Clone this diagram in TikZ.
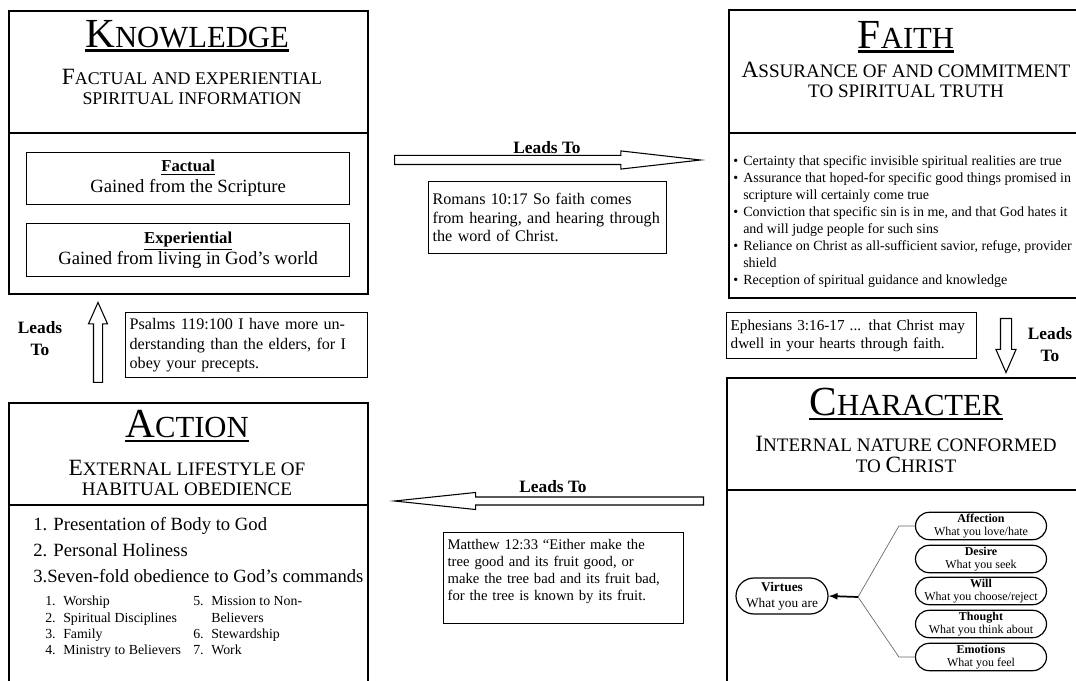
\documentclass[tikz,border=0pt]{standalone}
\usepackage{fontspec}
\setmainfont{Liberation Serif}
\usetikzlibrary{shapes.arrows,shapes.misc}

% fake small caps: big initial letters
\newcommand{\capT}[1]{{\fontsize{31}{34}\selectfont #1}}
\newcommand{\capS}[1]{{\fontsize{17.5}{20}\selectfont #1}}
\newcommand{\bul}{\makebox[7.5pt][l]{\textbullet}}
\newcommand{\ind}{\hspace*{7.5pt}}
\newcommand{\num}[1]{\makebox[13.5pt][l]{#1}}

\begin{document}
\begin{tikzpicture}[x=0.75pt,y=-0.75pt,>=latex]

% --- Styles ---
\tikzset{
    panel/.style={draw, line width=1.5pt, anchor=north west, inner sep=0pt},
    divider/.style={line width=1.5pt},
    heading/.style={anchor=north, inner sep=0pt, font=\fontsize{23}{26}\selectfont},
    headline/.style={line width=1.8pt},
    subhead/.style={anchor=north, inner sep=0pt, align=center, font=\fontsize{14.3}{15}\selectfont},
    inset/.style={draw, line width=1pt, anchor=north west, inner sep=0pt, align=center,
        font=\fontsize{14}{15.75}\selectfont},
    verse/.style={draw, line width=1pt, anchor=north west, align=left, inner xsep=3pt, inner ysep=2pt},
    leads/.style={anchor=north, inner sep=0pt, align=center, font=\bfseries\fontsize{13}{16.5}\selectfont},
    hollow/.style={single arrow, draw, line width=0.8pt, inner xsep=0pt, single arrow head indent=0pt,
        anchor=tail},
    trait/.style={rounded rectangle, draw, line width=0.9pt, minimum width=98.25pt, minimum height=20.5pt,
        inner sep=0pt, align=center, font=\fontsize{9}{10}\selectfont},
    branch/.style={draw=black!60, line width=0.5pt}
}

\clip (0,0) rectangle (1076,681);

% --- Knowledge (boven links) ---
\node[panel, minimum width=269.25pt, minimum height=212.25pt] (know) at (8,10) {};
\draw[divider] (know.west |- 0,133) -- (know.east |- 0,133);
\node[heading] (knowT) at (187,20) {\capT{K}NOWLEDGE};
\draw[headline] ([yshift=-2.5pt]knowT.base west) -- ([yshift=-2.5pt]knowT.base east);
\node[subhead, font=\fontsize{13.4}{15}\selectfont] (knowS) at (192,69)
    {\capS{F}ACTUAL AND EXPERIENTIAL\\SPIRITUAL INFORMATION};
\node[inset, minimum width=242.25pt, minimum height=39pt] (fact) at (26,152)
    {{\fontsize{12.5}{15}\selectfont\underline{\textbf{Factual}}}\\Gained from the Scripture};
\node[inset, minimum width=242.25pt, minimum height=39.75pt] (exper) at (26,223)
    {{\fontsize{12.5}{15}\selectfont\underline{\textbf{Experiential}}}\\Gained from living in God’s world};

% --- Faith (boven rechts) ---
\node[panel, minimum width=270pt, minimum height=216pt] (faith) at (728,9) {};
\draw[divider] (faith.west |- 0,133) -- (faith.east |- 0,133);
\node[heading] (faithT) at (906,21) {\capT{F}AITH};
\draw[headline] ([yshift=-2.5pt]faithT.base west) -- ([yshift=-2.5pt]faithT.base east);
\node[subhead] (faithS) at (906,62) {\capS{A}SSURANCE OF AND COMMITMENT\\TO SPIRITUAL TRUTH};
\node[anchor=north west, inner sep=0pt, align=left, font=\fontsize{10.5}{12.75}\selectfont] (faithL) at (733,155)
    {\bul Certainty that specific invisible spiritual realities are true\\
     \bul Assurance that hoped-for specific good things promised in\\
     \ind scripture will certainly come true\\
     \bul Conviction that specific sin is in me, and that God hates it\\
     \ind and will judge people for such sins\\
     \bul Reliance on Christ as all-sufficient savior, refuge, provider\\
     \ind shield\\
     \bul Reception of spiritual guidance and knowledge};

% --- Action (onder links) ---
\node[panel, minimum width=269.25pt, minimum height=217.5pt] (act) at (8,402) {};
\draw[divider] (act.west |- 0,505) -- (act.east |- 0,505);
\node[heading] (actT) at (187,410) {\capT{A}CTION};
\draw[headline] ([yshift=-2.5pt]actT.base west) -- ([yshift=-2.5pt]actT.base east);
\node[subhead] (actS) at (187,460) {\capS{E}XTERNAL LIFESTYLE OF\\HABITUAL OBEDIENCE};
\node[anchor=north west, inner sep=0pt, align=left, font=\fontsize{14}{19.5}\selectfont] (actL) at (33,517)
    {1. Presentation of Body to God\\2. Personal Holiness\\3.Seven-fold obedience to God’s commands};
\node[anchor=north west, inner sep=0pt, font=\fontsize{10.4}{12.25}\selectfont] (actC) at (45,594)
    {\begin{tabular}{@{}p{111pt}@{}l@{}}
     \num{1.}Worship & \num{5.}Mission to Non-\\
     \num{2.}Spiritual Disciplines & \num{}Believers\\
     \num{3.}Family & \num{6.}Stewardship\\
     \num{4.}Ministry to Believers & \num{7.}Work
     \end{tabular}};

% --- Character (onder rechts) ---
\node[panel, minimum width=270pt, minimum height=232.5pt] (char) at (726,377) {};
\draw[divider] (char.west |- 0,490) -- (char.east |- 0,490);
\node[heading] (charT) at (906,388) {\capT{C}HARACTER};
\draw[headline] ([yshift=-2.5pt]charT.base west) -- ([yshift=-2.5pt]charT.base east);
\node[subhead, font=\fontsize{14.3}{16}\selectfont] (charS) at (906,436)
    {\capS{I}NTERNAL NATURE CONFORMED\\TO \capS{C}HRIST};

% Virtues en de vijf bronnen
\node[trait, minimum width=69pt, minimum height=27pt, font=\fontsize{10}{12}\selectfont] (virt) at (782,596)
    {\textbf{Virtues}\\What you are};
\node[trait] (aff) at (981,526) {\textbf{Affection}\\What you love/hate};
\node[trait] (des) at (981,559) {\textbf{Desire}\\What you seek};
\node[trait] (will) at (981,591) {\textbf{Will}\\What you choose/reject};
\node[trait] (thou) at (981,624) {\textbf{Thought}\\What you think about};
\node[trait] (emo) at (981,657) {\textbf{Emotions}\\What you feel};
\coordinate (junc) at (858,597);
\draw[branch] (junc) -- ([xshift=-12pt]aff.west) -- (aff.west);
\draw[branch] (junc) -- ([xshift=-12pt]emo.west) -- (emo.west);
\draw[->, line width=1.3pt] (junc) -- (virt.east);

% ==========================================
% --- Pijlen "Leads To" en verzen ---
% ==========================================

% Knowledge -> Faith
\node[hollow, minimum height=229.5pt, inner ysep=3pt, single arrow head extend=3.4pt,
    single arrow tip angle=13] (kf) at (394,160) {};
\node[leads] (kfL) at (547,141) {Leads To};
\node[verse, text width=172.5pt, minimum height=54pt, font=\fontsize{12.1}{13.9}\selectfont] (rom) at (428,181)
    {Romans 10:17 So faith comes\\from hearing, and hearing through\\the word of Christ.};

% Faith -> Character
\node[hollow, rotate=-90, minimum height=40.5pt, inner ysep=3.75pt, single arrow head extend=3.4pt,
    single arrow tip angle=47] (fc) at (1006,318) {};
\node[leads] (fcL) at (1050,327) {Leads\\To};
\node[verse, text width=181.5pt, minimum height=34.5pt, font=\fontsize{11.4}{13.5}\selectfont] (eph) at (726,312)
    {Ephesians 3:16-17 ... that Christ may\\dwell in your hearts through faith.};

% Character -> Action
\node[hollow, rotate=180, minimum height=231.75pt, inner ysep=2.6pt, single arrow head extend=3.4pt,
    single arrow tip angle=12] (ca) at (704,501) {};
\node[leads] (caL) at (553,480) {Leads To};
\node[verse, text width=174pt, inner ysep=5pt, font=\fontsize{11}{12.75}\selectfont] (mat) at (443,532)
    {Matthew 12:33 “Either make the\\tree good and its fruit good, or\\make the tree bad and its fruit bad,\\for the tree is known by its fruit.\rule[-12pt]{0pt}{12pt}};

% Action -> Knowledge
\node[hollow, rotate=90, minimum height=60pt, inner ysep=3pt, single arrow head extend=3.75pt,
    single arrow tip angle=48] (ak) at (98,383) {};
\node[leads] (akL) at (40,321) {Leads\\To};
\node[verse, text width=175.5pt, minimum height=48.75pt, font=\fontsize{12.1}{14.6}\selectfont] (psa) at (125,312)
    {Psalms 119:100 I have more un-\\derstanding than the elders, for I\\obey your precepts.};

\end{tikzpicture}
\end{document}
